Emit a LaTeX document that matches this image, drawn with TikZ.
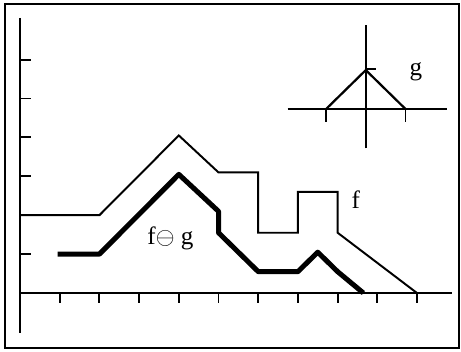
\documentclass[tikz,border=0pt]{standalone}
\usepackage{fontspec}
\setmainfont{Liberation Serif}
\usetikzlibrary{calc}

\begin{document}
\begin{tikzpicture}[x=1cm,y=0.98cm]
    \useasboundingbox (-0.504,-1.491) rectangle (11.108,7.532);
    \draw[line width=1.3pt] (-0.378,-1.414) rectangle (11.058,7.429);

    % axes
    \draw[line width=1.4pt] (0,7.07) -- (0,-1.03);
    \draw[line width=1.4pt] (0,0) -- (10.88,0);
    \foreach \k in {1,...,10} \draw[line width=1.4pt] (\k,0) -- (\k,-0.25);
    \foreach \k in {1,...,6} \draw[line width=1.4pt] (0,\k) -- (0.28,\k);

    % f
    \draw[line width=1.4pt] (0,2) -- (2,2) -- (4,4.05) -- (5,3.1) -- (6,3.1) -- (6,1.55) -- (7,1.55) -- (7,2.6) -- (8,2.6) -- (8,1.55) -- (10,0);

    % f eroded by g
    \draw[line width=3.6pt,line join=round] (0.95,1) -- (2,1) -- (4,3.05) -- (5,2.1) -- (5,1.55) -- (6,0.55) -- (7,0.55) -- (7.5,1.05) -- (8,0.55) -- (8.65,0);

    % g
    \begin{scope}[shift={(8.71,4.73)}]
        \draw[line width=1.6pt] (-1.97,0) -- (2.04,0);
        \draw[line width=1.4pt] (0,-1.01) -- (0,2.16);
        \draw[line width=1.4pt] (-1,0) -- (-1,-0.33);
        \draw[line width=1.4pt] (1,0) -- (1,-0.33);
        \draw[line width=1.4pt] (0,1.02) -- (0.25,1.02);
        \draw[line width=1.6pt] (-1,0) -- (0,1) -- (1,0);
        \node[font=\fontsize{18}{20}\selectfont] (glabel) at (1.26,0.95) {g};
    \end{scope}

    \node[font=\fontsize{18}{20}\selectfont] (flabel) at (8.46,2.40) {f};
    \node[font=\fontsize{18}{20}\selectfont] (erolabel) at (3.79,1.41) {f$\ominus$ g};
\end{tikzpicture}
\end{document}
